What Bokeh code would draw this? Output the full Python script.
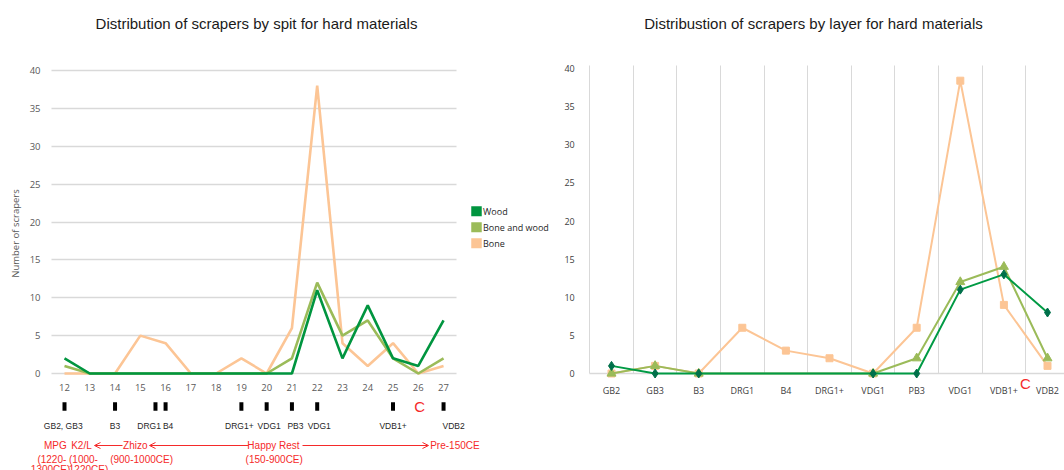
import math
from bokeh.plotting import figure
from bokeh.models import Range1d, FixedTicker, Arrow, OpenHead
from bokeh.core.properties import value
from bokeh.layouts import row
from bokeh.embed import file_html
from bokeh.resources import INLINE

# ---------------- data ----------------
spits = list(range(12, 28))
wood_spit = [2, 0, 0, 0, 0, 0, 0, 0, 0, 0, 11, 2, 9, 2, 1, 7]
bonewood_spit = [1, 0, 0, 0, 0, 0, 0, 0, 0, 2, 12, 5, 7, 2, 0, 2]
bone_spit = [0, 0, 0, 5, 4, 0, 0, 2, 0, 6, 38, 4, 1, 4, 0, 1]

layers = ["GB2", "GB3", "B3", "DRG1", "B4", "DRG1+", "VDG1", "PB3", "VDG1", "VDB1+", "VDB2"]
wood_layer = [1, 0, 0, None, None, None, 0, 0, 11, 13, 8]
bonewood_layer = [0, 1, 0, None, None, None, 0, 2, 12, 14, 2]
bone_layer = [0, 1, 0, 6, 3, 2, 0, 6, 38.4, 9, 1]

series_names = ["Wood", "Bone and wood", "Bone"]

# layer markers placed under the spit axis (spit positions)
layer_mark_pos = [12, 14, 15.6, 16, 19, 20, 21, 22, 25, 27]
layer_names = ["GB2, GB3", "B3", "DRG1", "B4", "DRG1+", "VDG1", "PB3", "VDG1", "VDB1+", "VDB2"]
layer_name_pos = [11.95, 14.0, 15.35, 16.1, 18.92, 20.1, 21.14, 22.08, 25.0, 27.4]

# period annotations
period_row1 = ["MPG", "K2/L", "Zhizo", "Happy Rest", "Pre-150CE"]
period_row1_pos = [11.64, 12.67, 14.8, 20.27, 27.45]
period_row2 = ["(1220-", "(1000-", "(900-1000CE)", "(150-900CE)"]
period_row2_pos = [11.5, 12.75, 15.05, 20.3]
period_row3 = ["1300CE)", "1220CE)"]
period_row3_pos = [11.45, 12.95]

WOOD = "#00953f"
BW = "#9bbb59"
BONE = "#fcc595"
RED = "#f52a2a"
GRID = "#d9d9d9"
TXT = "#595959"
FONT = "Open Sans"
ARIAL = "Liberation Sans"

H = 470

# ---------------- left chart ----------------
PX_X = 25.27  # px per spit
PX_Y = 7.575  # px per scraper


def lx(px):
    return 12 + (px - 64) / PX_X


def ly(py):
    return (373 - py) / PX_Y


LW = 556
p1 = figure(width=LW, height=H, output_backend="svg", toolbar_location=None,
            x_range=Range1d(lx(0), lx(LW)), y_range=Range1d(ly(H), ly(0)),
            min_border_left=0, min_border_right=0, min_border_top=0, min_border_bottom=0)
p1.outline_line_color = None
p1.xgrid.visible = False
p1.ygrid.ticker = FixedTicker(ticks=list(range(0, 41, 5)))
p1.ygrid.grid_line_color = GRID
p1.ygrid.grid_line_width = 1.5
p1.ygrid.cross_bounds = (lx(51), lx(456))
p1.yaxis.ticker = FixedTicker(ticks=list(range(0, 41, 5)))
p1.xaxis.ticker = FixedTicker(ticks=spits)
p1.yaxis.fixed_location = lx(51)
p1.xaxis.fixed_location = 0
for ax in (p1.xaxis[0], p1.yaxis[0]):
    ax.axis_line_color = None
    ax.major_tick_line_color = None
    ax.minor_tick_line_color = None
    ax.major_label_text_font = FONT
    ax.major_label_text_font_size = "9.5px"
    ax.major_label_text_color = TXT
p1.xaxis.major_label_standoff = 4
p1.yaxis.major_label_standoff = 5

p1.line(spits, bone_spit, line_color=BONE, line_width=2.6)
p1.line(spits, bonewood_spit, line_color=BW, line_width=2.6)
p1.line(spits, wood_spit, line_color=WOOD, line_width=2.6)

# legend (filled squares + labels)
leg_y = [ly(210.7), ly(226.8), ly(242.7)]
p1.rect(x=[lx(476)] * 3, y=leg_y, width=10.5, height=10, width_units="screen",
        height_units="screen", fill_color=[WOOD, BW, BONE], line_color=None)
p1.text(x=[lx(482.5)] * 3, y=leg_y, text=series_names, text_align="left",
        text_baseline="middle", text_font=value(FONT), text_font_size="9px",
        text_color="#262626")

p1.text(x=[lx(15)], y=[ly(233)], text=["Number of scrapers"], angle=math.pi / 2,
        text_align="center", text_baseline="middle", text_font=value(FONT),
        text_font_size="9.5px", text_color=TXT)
p1.text(x=[lx(256)], y=[ly(23)], text=["Distribution of scrapers by spit for hard materials"],
        text_align="center", text_baseline="middle", text_font=value(ARIAL),
        text_font_size="15px", text_color="#1a1a1a")

p1.rect(x=layer_mark_pos, y=[ly(406)] * len(layer_mark_pos), width=4, height=8.5,
        width_units="screen", height_units="screen", fill_color="black", line_color=None)
p1.text(x=[26.05], y=[ly(406)], text=["C"], text_align="center", text_baseline="middle",
        text_font=value(ARIAL), text_font_size="15px", text_color=RED)
p1.text(x=layer_name_pos, y=[ly(425)] * len(layer_names), text=layer_names,
        text_align="center", text_baseline="middle", text_font=value(ARIAL),
        text_font_size="8.5px", text_color="#262626")
for names, pos, yy in [(period_row1, period_row1_pos, 445),
                       (period_row2, period_row2_pos, 459),
                       (period_row3, period_row3_pos, 469)]:
    p1.text(x=pos, y=[ly(yy)] * len(names), text=names, text_align="center",
            text_baseline="middle", text_font=value(ARIAL), text_font_size="10px",
            text_color=RED)
for xs, xe in [(lx(122), lx(94)), (lx(248), lx(149)), (lx(302), lx(428))]:
    p1.add_layout(Arrow(end=OpenHead(size=6, line_color=RED, line_width=1),
                        x_start=xs, y_start=ly(445), x_end=xe, y_end=ly(445),
                        line_color=RED, line_width=1))

# ---------------- right chart ----------------
RX = 43.6
RY = 7.625


def rx(px):
    return (px - 611) / RX


def ry(py):
    return (373 - py) / RY


RX0 = LW
RW = 1064 - RX0
xs_idx = list(range(len(layers)))
p2 = figure(width=RW, height=H, output_backend="svg", toolbar_location=None,
            x_range=Range1d(rx(RX0), rx(1064)), y_range=Range1d(ry(H), ry(0)),
            min_border_left=0, min_border_right=0, min_border_top=0, min_border_bottom=0)
p2.outline_line_color = None
p2.xgrid.ticker = FixedTicker(ticks=[i - 0.5 for i in range(len(layers))])
p2.xgrid.grid_line_color = GRID
p2.xgrid.grid_line_width = 1
p2.xgrid.cross_bounds = (0, ry(65))
p2.ygrid.ticker = FixedTicker(ticks=[0])
p2.ygrid.grid_line_color = GRID
p2.ygrid.grid_line_width = 1.5
p2.ygrid.cross_bounds = (-0.5, rx(1064))
p2.xaxis.ticker = FixedTicker(ticks=xs_idx)
p2.xaxis.major_label_overrides = {i: l for i, l in enumerate(layers)}
p2.yaxis.ticker = FixedTicker(ticks=list(range(0, 41, 5)))
p2.xaxis.fixed_location = 0
p2.yaxis.fixed_location = -0.5
for ax in (p2.xaxis[0], p2.yaxis[0]):
    ax.axis_line_color = None
    ax.major_tick_line_color = None
    ax.minor_tick_line_color = None
    ax.major_label_text_font = FONT
    ax.major_label_text_font_size = "9px"
    ax.major_label_text_color = "#404040"
p2.xaxis.major_label_standoff = 4
p2.yaxis.major_label_standoff = 9


def pts(vals):
    xx = [i for i, v in zip(xs_idx, vals) if v is not None]
    yy = [v for v in vals if v is not None]
    return xx, yy


bx, by = pts(bone_layer)
p2.line(bx, by, line_color=BONE, line_width=2)
p2.scatter(bx, by, marker="square", size=7, fill_color=BONE, line_color=BONE)
gx, gy = pts(bonewood_layer)
p2.line(gx, gy, line_color=BW, line_width=2)
p2.scatter(gx, gy, marker="triangle", size=9, fill_color=BW, line_color=BW)
wx, wy = pts(wood_layer)
p2.line(wx, wy, line_color="#009a44", line_width=2)
p2.scatter(wx, wy, marker="diamond", size=9, fill_color="#00704a", line_color="#00704a")

p2.text(x=[rx(813)], y=[ry(23)], text=["Distribustion of scrapers by layer for hard materials"],
        text_align="center", text_baseline="middle", text_font=value(ARIAL),
        text_font_size="15px", text_color="#1a1a1a")
p2.text(x=[rx(1025)], y=[ry(383)], text=["C"], text_align="center", text_baseline="middle",
        text_font=value(ARIAL), text_font_size="15px", text_color=RED)

layout = row(p1, p2, spacing=0)
open("out.html", "w").write(file_html(layout, INLINE))
